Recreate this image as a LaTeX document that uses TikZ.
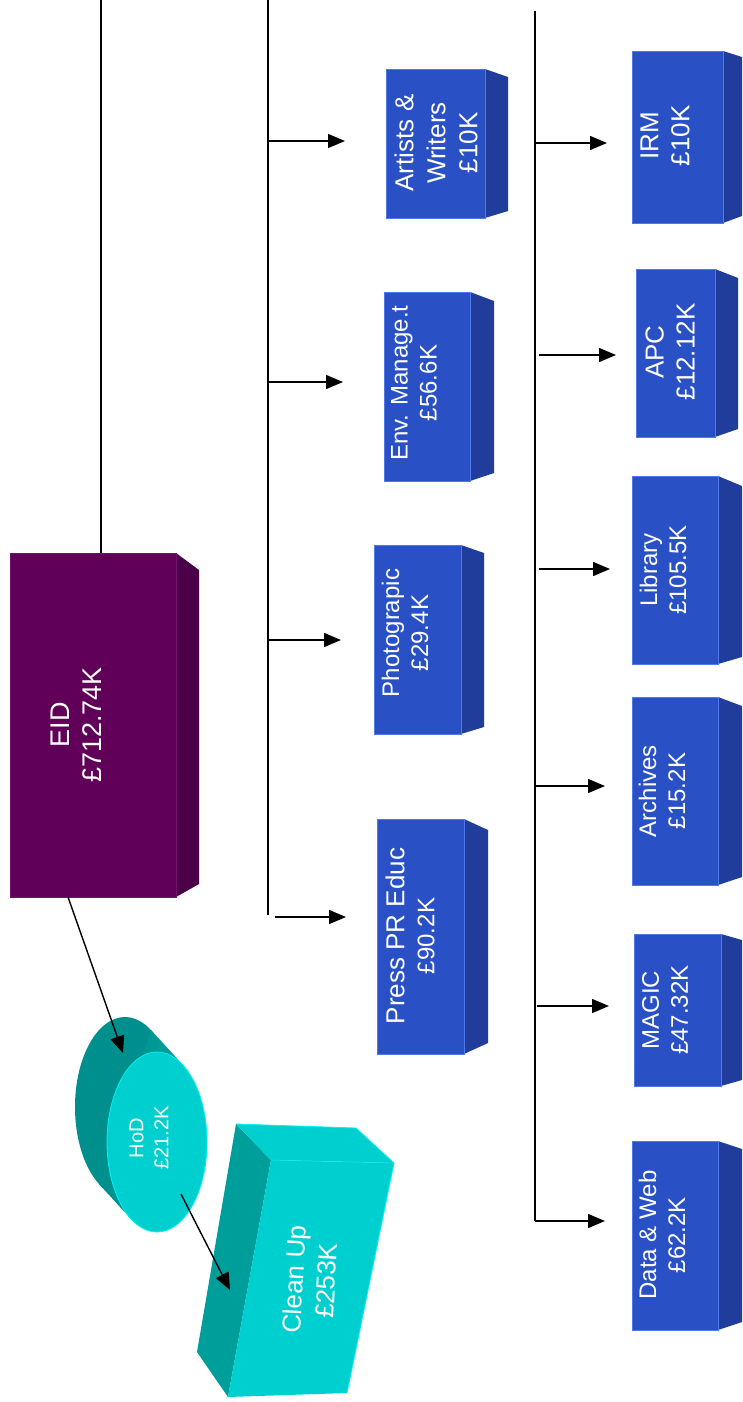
\documentclass[tikz,border=0pt]{standalone}
\usepackage{fontspec}
\setmainfont{Liberation Sans}
\usetikzlibrary{arrows.meta,shapes.geometric}
\definecolor{purpF}{HTML}{600058}
\definecolor{purpS}{HTML}{4B0047}
\definecolor{purpE}{HTML}{74106C}
\definecolor{blueF}{HTML}{2A50C6}
\definecolor{blueS}{HTML}{213D9C}
\definecolor{blueE}{HTML}{4F78EA}
\definecolor{tealF}{HTML}{00CFCF}
\definecolor{tealS}{HTML}{009E9B}
\definecolor{tealD}{HTML}{008F8C}
\definecolor{tealE}{HTML}{00F2F2}
\newcommand{\fs}[2]{\fontsize{#1}{#2}\selectfont}
% \cube[scheme]{name}{x1}{y1}{x2}{y2}{xside}{yside top}{yside bottom}
\newcommand{\cube}[9][blue]{%
  \fill[#1S] (#5,#4) -- (#7,#8) -- (#7,#9) -- (#5,#6) -- cycle;
  \node[face, fill=#1F, draw=#1E, minimum width={(#5-#3)*1pt}, minimum height={(#6-#4)*1pt}] (#2) at ({(#3+#5)/2},{(#4+#6)/2}) {};
}
\tikzset{
  conn/.style={line width=1.4pt, black},
  arr/.style={conn, -{Triangle[length=17pt,width=14pt]}},
  face/.style={inner sep=0pt, outer sep=0pt, line width=0.8pt, rectangle},
  lbl/.style={text=white, rotate=90, align=center, inner sep=0pt},
}
\begin{document}
\begin{tikzpicture}[x=1pt,y=-1pt]
\useasboundingbox (0,0) rectangle (742,1402);

% ---------- boxes ----------
\cube[purp]{eid}{10}{553}{176}{897}{199}{570}{884}
\cube{artists}{386}{69}{485}{218}{508}{77}{211}
\cube{env}{384}{292}{470}{481}{494}{301}{473}
\cube{photo}{374}{545}{461}{734}{484}{553}{727}
\cube{press}{377}{819}{464}{1054}{488}{830}{1043}
\cube{irm}{632}{51}{723}{223}{742}{57}{216}
\cube{apc}{636}{269}{715}{437}{738}{278}{429}
\cube{library}{632}{476}{718}{664}{742}{486}{657}
\cube{archives}{632}{697}{718}{885}{742}{706}{877}
\cube{magic}{634}{934}{721}{1086}{742}{940}{1080}
\cube{data}{632}{1141}{718}{1330}{742}{1149}{1322}

% ---------- HoD cylinder ----------
\fill[tealD] (125,1107) ellipse [x radius=50, y radius=90];
\shade[left color=tealD, right color=tealS] (183,1065) -- (151,1030) -- (99,1184) -- (131,1219) -- cycle;
\node[ellipse, fill=tealF, draw=tealE, line width=0.8pt, minimum width=100pt, minimum height=180pt, inner sep=0pt] (hod) at (157,1142) {};

% ---------- Clean Up box ----------
\fill[tealS] (236,1124) -- (271,1160) -- (228,1397) -- (197,1352) -- cycle;
\fill[tealF] (236,1124) -- (356,1128) -- (394,1163) -- (271,1160) -- cycle;
\fill[tealF] (271,1160) -- (394,1163) -- (347,1393) -- (228,1397) -- cycle;
\draw[tealE, line width=0.8pt] (236,1124) -- (356,1128) -- (394,1163) -- (347,1393);
\draw[tealE, line width=0.5pt] (271,1160) -- (394,1163);

% ---------- labels ----------
\node[lbl, font=\fs{27}{32}] (eid-t) at (76,725) {EID\\£712.74K};
\node[lbl, font=\fs{26}{32}] (artists-t) at (436,143) {Artists \&\\Writers\\£10K};
\node[lbl, font=\fs{24}{29}] (env-t) at (414,383) {Env. Manage.t\\£56.6K};
\node[lbl, font=\fs{24}{29}] (photo-t) at (405,633) {Photograpic\\£29.4K};
\node[lbl, font=\fs{24}{30}] (press-t) at (410,936) {{\fs{26}{30}Press PR Educ}\\£90.2K};
\node[lbl, font=\fs{26}{31}] (irm-t) at (665,136) {IRM\\£10K};
\node[lbl, font=\fs{26}{31}] (apc-t) at (670,352) {APC\\£12.12K};
\node[lbl, font=\fs{24}{29}] (library-t) at (663,570) {Library\\£105.5K};
\node[lbl, font=\fs{24}{29}] (archives-t) at (662,791) {Archives\\£15.2K};
\node[lbl, font=\fs{24}{29}] (magic-t) at (665,1010) {MAGIC\\£47.32K};
\node[lbl, font=\fs{24}{29}] (data-t) at (662,1235) {Data \& Web\\£62.2K};
\node[lbl, font=\fs{20}{25}] (hod-t) at (149,1138) {HoD\\£21.2K};
\node[lbl, rotate=-3, font=\fs{26}{32}] (clean-t) at (310,1280) {Clean Up\\£253K};

% ---------- connectors ----------
\coordinate (eidtop) at (101,0);
\draw[conn] (eidtop) -- (eidtop |- eid.north);

\coordinate (bus1top) at (268,0);
\coordinate (bus1bot) at (268,915);
\draw[conn] (bus1top) -- (bus1bot);
\coordinate (a1s) at (268,141); \coordinate (a1e) at (345,141);
\coordinate (a2s) at (268,382); \coordinate (a2e) at (343,382);
\coordinate (a3s) at (268,640); \coordinate (a3e) at (341,640);
\coordinate (a4s) at (275,917); \coordinate (a4e) at (346,917);
\draw[arr] (a1s) -- (a1e);
\draw[arr] (a2s) -- (a2e);
\draw[arr] (a3s) -- (a3e);
\draw[arr] (a4s) -- (a4e);

\coordinate (bus2top) at (535,11);
\coordinate (bus2bot) at (535,1221);
\draw[conn] (bus2top) -- (bus2bot);
\coordinate (b1s) at (535,143); \coordinate (b1e) at (607,143);
\coordinate (b2s) at (539,355); \coordinate (b2e) at (616,355);
\coordinate (b3s) at (539,569); \coordinate (b3e) at (610,569);
\coordinate (b4s) at (535,786); \coordinate (b4e) at (605,786);
\coordinate (b5s) at (537,1006); \coordinate (b5e) at (609,1006);
\coordinate (b6s) at (535,1221); \coordinate (b6e) at (605,1221);
\draw[arr] (b1s) -- (b1e);
\draw[arr] (b2s) -- (b2e);
\draw[arr] (b3s) -- (b3e);
\draw[arr] (b4s) -- (b4e);
\draw[arr] (b5s) -- (b5e);
\draw[arr] (b6s) -- (b6e);

\coordinate (hodtip) at (123,1053);
\draw[arr] ([xshift=-25pt]eid.south) -- (hodtip);
\coordinate (hodout) at (181,1194);
\coordinate (cleantip) at (230,1290);
\draw[arr] (hodout) -- (cleantip);
\end{tikzpicture}
\end{document}
